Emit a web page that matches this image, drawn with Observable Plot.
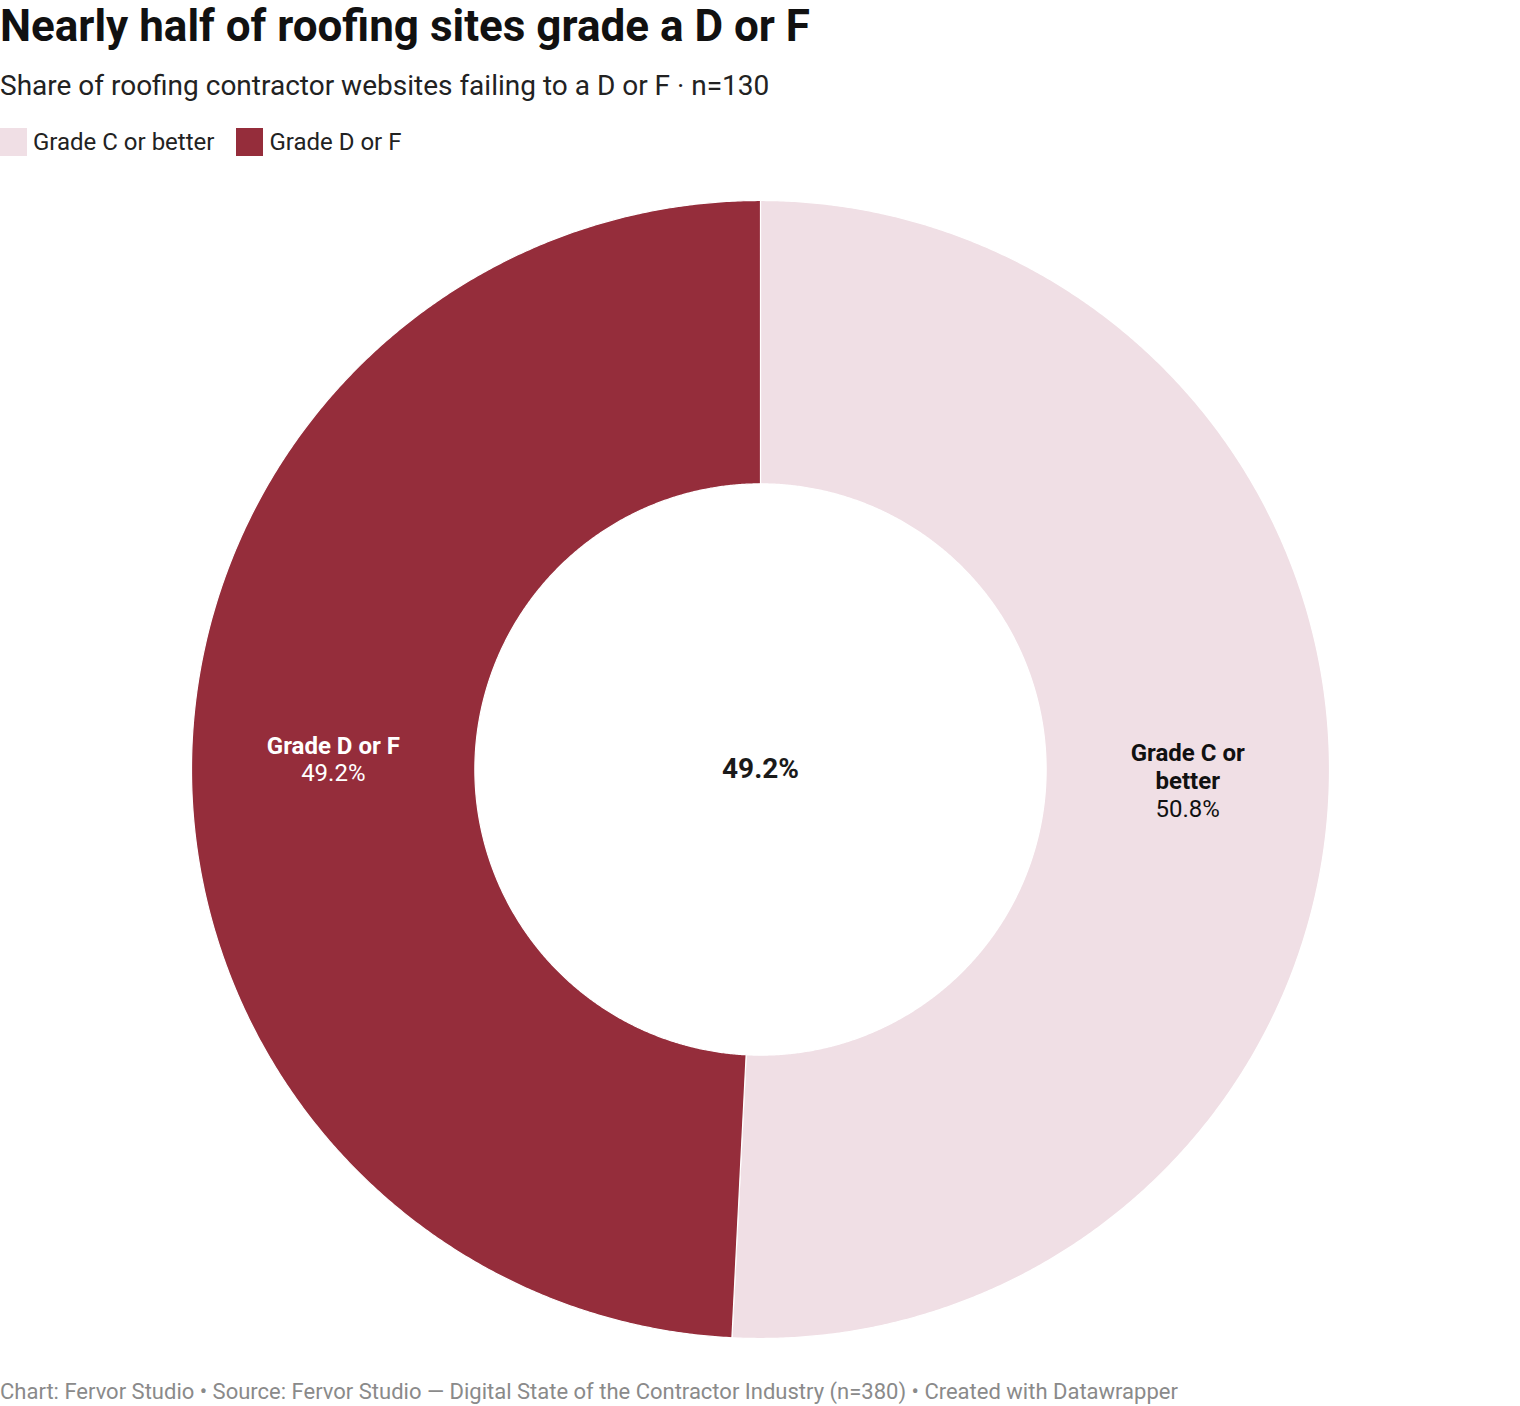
<!DOCTYPE html>
<html>
<head>
<meta charset="utf-8">
<script src="https://cdn.jsdelivr.net/npm/d3@7"></script>
<script src="https://cdn.jsdelivr.net/npm/@observablehq/plot@0.6"></script>
<style>
  html, body { margin: 0; padding: 0; background: #fff; }
  body { width: 1520px; font-family: Roboto, "Noto Sans", sans-serif; color: #1a1a1a; }
  #title { font-size: 44px; font-weight: 700; line-height: 52px; height: 52px; margin: 0; color: #111; }
  #subtitle { font-size: 28px; line-height: 34px; height: 34px; margin: 17px 0 0 0; color: #222; }
  #legend { display: flex; align-items: center; margin-top: 25px; height: 28px; font-size: 24px; color: #222; }
  .item { display: flex; align-items: center; margin-right: 22px; }
  .sw { width: 27px; height: 28px; margin-right: 6px; }
  #chart { margin-top: 34px; height: 1160px; }
  #chart svg { display: block; }
  #footer { font-size: 22px; line-height: 26px; color: #8a8a8a; margin-top: 29px; }
</style>
</head>
<body>
<div id="title">Nearly half of roofing sites grade a D or F</div>
<div id="subtitle">Share of roofing contractor websites failing to a D or F · n=130</div>
<div id="legend"></div>
<div id="chart"></div>
<div id="footer">Chart: Fervor Studio • Source: Fervor Studio — Digital State of the Contractor Industry (n=380) • Created with Datawrapper</div>
<script>
// ---- data ----
const categories = ["Grade C or better", "Grade D or F"];
const values = [50.8, 49.2];
const labelLines = [["Grade C or", "better"], ["Grade D or F"]];
const colors = ["#f0dfe5", "#952d3b"];
const labelColors = ["#111111", "#ffffff"];
const centerLabel = "49.2%";

// ---- legend ----
const legend = document.getElementById("legend");
categories.forEach((c, i) => {
  const it = document.createElement("div");
  it.className = "item";
  const sw = document.createElement("div");
  sw.className = "sw";
  sw.style.background = colors[i];
  const t = document.createElement("span");
  t.textContent = c;
  it.appendChild(sw); it.appendChild(t);
  legend.appendChild(it);
});

// ---- geometry from data ----
const innerR = 0.502;
const pie = d3.pie().sort(null).value(d => d.value).startAngle(0).endAngle(2 * Math.PI);
const slices = pie(categories.map((c, i) => ({cat: c, value: values[i], i})));

const pts = [];
slices.forEach(s => {
  const n = Math.max(2, Math.ceil((s.endAngle - s.startAngle) / 0.005));
  for (let k = 0; k <= n; k++) {
    const a = s.startAngle + (s.endAngle - s.startAngle) * k / n;
    pts.push({cat: s.data.cat, x: Math.sin(a), y: Math.cos(a)});
  }
  for (let k = n; k >= 0; k--) {
    const a = s.startAngle + (s.endAngle - s.startAngle) * k / n;
    pts.push({cat: s.data.cat, x: innerR * Math.sin(a), y: innerR * Math.cos(a)});
  }
  pts.push({cat: s.data.cat, x: Math.sin(s.startAngle), y: Math.cos(s.startAngle)});
});

const labR = (1 + innerR) / 2;
const labels = slices.map(s => {
  const a = (s.startAngle + s.endAngle) / 2;
  const lines = labelLines[s.data.i];
  return {
    x: labR * Math.sin(a), y: labR * Math.cos(a),
    name: lines.join("\n") + "\n",
    val: "\n".repeat(lines.length) + d3.format(".1f")(s.data.value) + "%",
    color: labelColors[s.data.i]
  };
});

const R = 569, cx = 760, cy = 579, H = 1160;

const chart = Plot.plot({
  width: 1520,
  height: H,
  margin: 0,
  x: {domain: [-1, 1], range: [cx - R, cx + R], axis: null},
  y: {domain: [-1, 1], range: [cy + R, cy - R], axis: null},
  color: {domain: categories, range: colors},
  style: {fontFamily: "Roboto, sans-serif", background: "#fff"},
  marks: [
    Plot.line(pts, {x: "x", y: "y", z: "cat", fill: "cat", stroke: "#ffffff", strokeWidth: 1.2, curve: "linear"}),
    Plot.text(labels, {x: "x", y: "y", text: "name", fill: "color", fontWeight: 700, fontSize: 24, lineHeight: 1.15, lineAnchor: "middle"}),
    Plot.text(labels, {x: "x", y: "y", text: "val", fill: "color", fontSize: 24, lineHeight: 1.15, lineAnchor: "middle"}),
    Plot.text([centerLabel], {x: () => 0, y: () => 0, text: d => d, fontWeight: 700, fontSize: 28, fill: "#1a1a1a"})
  ]
});
document.getElementById("chart").appendChild(chart);
</script>
</body>
</html>
